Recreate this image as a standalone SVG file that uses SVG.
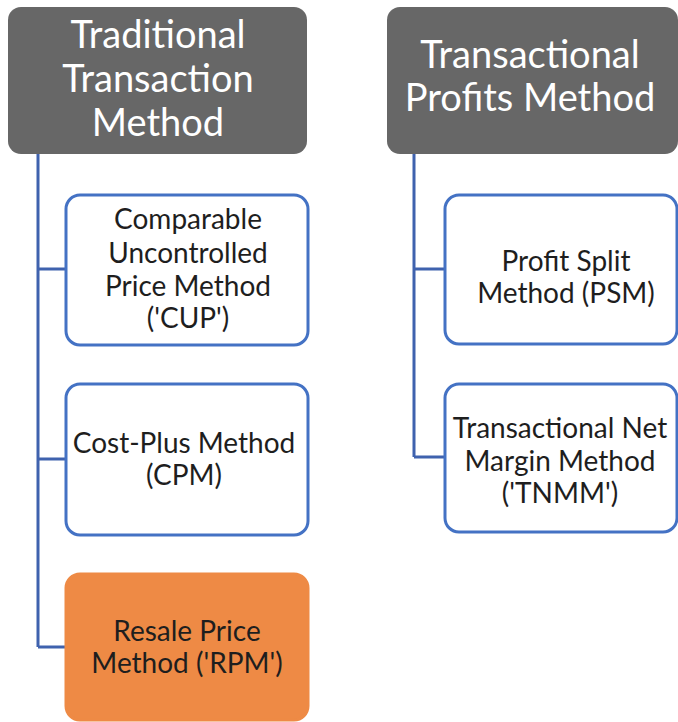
<svg xmlns="http://www.w3.org/2000/svg" width="678" height="722" viewBox="0 0 678 722">
  <style>
    .hdr { fill: #676767; }
    .hdr-t { fill: #ffffff; font-family: Lato, "Liberation Sans", sans-serif; font-size: 38px; text-anchor: middle; }
    .box { fill: #ffffff; stroke: #4472c4; stroke-width: 3; }
    .box-hl { fill: #ee8a45; stroke: #ee8a45; stroke-width: 3; }
    .box-t { fill: #1e1e1e; font-family: Lato, "Liberation Sans", sans-serif; font-size: 28px; text-anchor: middle; }
    .conn { fill: none; stroke: #3f62ae; stroke-width: 3; }
  </style>
  <rect width="678" height="722" fill="#ffffff"/>

  <!-- tree connectors -->
  <g id="connectors">
    <path class="conn" d="M38 154 V647 M38 269 H66 M38 459 H66 M38 647 H66"/>
    <path class="conn" d="M414 154 V457 M414 269 H445 M414 457 H445"/>
  </g>

  <g id="traditional">
    <rect class="hdr" x="8" y="7" width="299" height="147" rx="13"/>
    <text class="hdr-t" x="158" y="48">Traditional</text>
    <text class="hdr-t" x="158" y="92">Transaction</text>
    <text class="hdr-t" x="158" y="136">Method</text>
  </g>

  <g id="transactional">
    <rect class="hdr" x="387" y="7" width="291" height="147" rx="13"/>
    <text class="hdr-t" x="530" y="68">Transactional</text>
    <text class="hdr-t" x="530" y="111">Profits Method</text>
  </g>

  <g id="cup">
    <rect class="box" x="66" y="195" width="242" height="150" rx="14"/>
    <text class="box-t" x="188" y="229">Comparable</text>
    <text class="box-t" x="188" y="263">Uncontrolled</text>
    <text class="box-t" x="188" y="296">Price Method</text>
    <text class="box-t" x="188" y="328">('CUP')</text>
  </g>

  <g id="cpm">
    <rect class="box" x="66" y="384" width="242" height="151" rx="14"/>
    <text class="box-t" x="184" y="453">Cost-Plus Method</text>
    <text class="box-t" x="184" y="485">(CPM)</text>
  </g>

  <g id="rpm">
    <rect class="box-hl" x="66" y="574" width="242" height="146" rx="14"/>
    <text class="box-t" x="187" y="641">Resale Price</text>
    <text class="box-t" x="187" y="673">Method ('RPM')</text>
  </g>

  <g id="psm">
    <rect class="box" x="445" y="195" width="232" height="149" rx="14"/>
    <text class="box-t" x="566" y="271">Profit Split</text>
    <text class="box-t" x="566" y="303">Method (PSM)</text>
  </g>

  <g id="tnmm">
    <rect class="box" x="445" y="384" width="232" height="148" rx="14"/>
    <text class="box-t" x="560" y="438">Transactional Net</text>
    <text class="box-t" x="560" y="471">Margin Method</text>
    <text class="box-t" x="560" y="503">('TNMM')</text>
  </g>
</svg>
